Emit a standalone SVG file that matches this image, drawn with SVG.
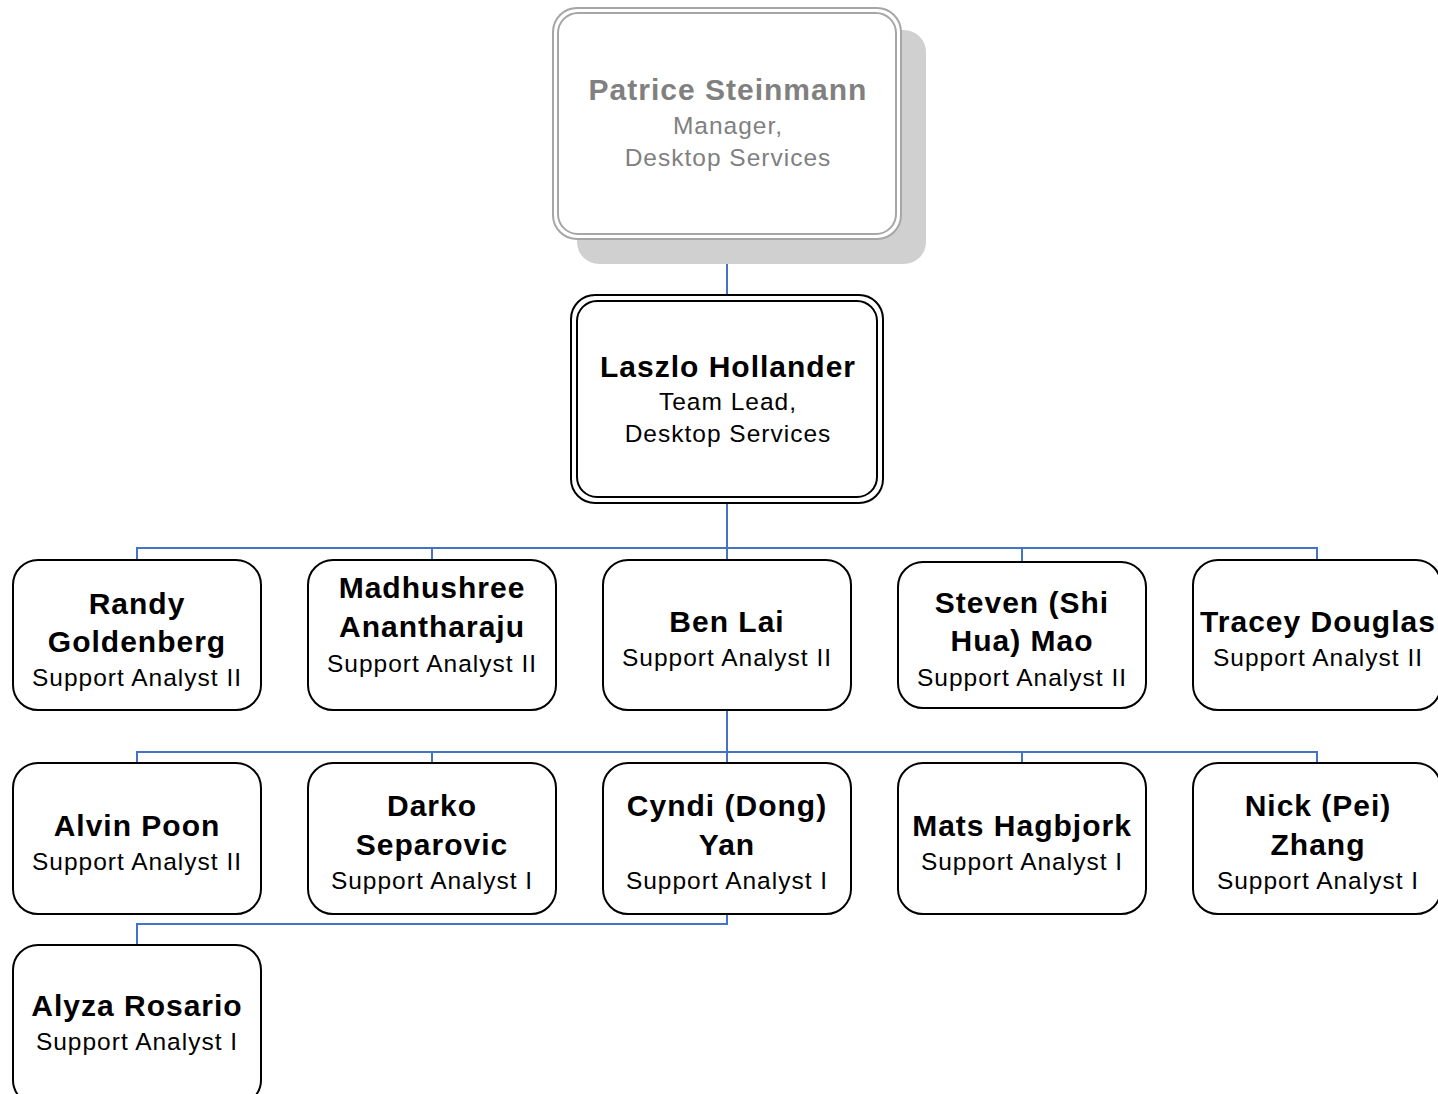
<svg xmlns="http://www.w3.org/2000/svg" width="1438" height="1094" viewBox="0 0 1438 1094">
<style>
.box{fill:#fff;stroke:#000;stroke-width:2}
.gbox{fill:#fff;stroke:#a6a6a6;stroke-width:2}
.n{font-family:"Liberation Sans",Arial,sans-serif;font-weight:bold;font-size:30px;letter-spacing:1px;text-anchor:middle;fill:#000}
.t{font-family:"Liberation Sans",Arial,sans-serif;font-size:24.5px;letter-spacing:1px;text-anchor:middle;fill:#000}
.g{fill:#808080}
.c{fill:none;stroke:#4472c4;stroke-width:2}
</style>
<rect width="1438" height="1094" fill="#fff"/>
<g id="connectors">
<path class="c" d="M727 239V296"/>
<path class="c" d="M727 503V560M137 560V548H1317V560M432 548V560M1022 548V562"/>
<path class="c" d="M727 711V763M137 763V752H1317V763M432 752V763M1022 752V763"/>
<path class="c" d="M727 914V924H137V945"/>
</g>
<g id="patrice">
<rect x="577" y="30" width="349" height="234" rx="22" fill="#d0d0d0"/>
<rect class="gbox" x="553" y="8" width="348" height="231" rx="24"/>
<rect class="gbox" x="558" y="13" width="338" height="221" rx="20"/>
<text class="n g" x="728" y="100">Patrice Steinmann</text>
<text class="t g" x="728" y="134">Manager,</text>
<text class="t g" x="728" y="166">Desktop Services</text>
</g>
<g id="laszlo">
<rect class="box" x="571" y="295" width="312" height="208" rx="24"/>
<rect class="box" x="577" y="301" width="300" height="196" rx="20"/>
<text class="n" x="728" y="377">Laszlo Hollander</text>
<text class="t" x="728" y="410">Team Lead,</text>
<text class="t" x="728" y="442">Desktop Services</text>
</g>
<g id="randy">
<rect class="box" x="13" y="560" width="248" height="150" rx="25"/>
<text class="n" x="137" y="614">Randy</text>
<text class="n" x="137" y="652">Goldenberg</text>
<text class="t" x="137" y="686">Support Analyst II</text>
</g>
<g id="madhushree">
<rect class="box" x="308" y="560" width="248" height="150" rx="25"/>
<text class="n" x="432" y="598">Madhushree</text>
<text class="n" x="432" y="637">Anantharaju</text>
<text class="t" x="432" y="672">Support Analyst II</text>
</g>
<g id="ben">
<rect class="box" x="603" y="560" width="248" height="150" rx="25"/>
<text class="n" x="727" y="632">Ben Lai</text>
<text class="t" x="727" y="666">Support Analyst II</text>
</g>
<g id="steven">
<rect class="box" x="898" y="562" width="248" height="146" rx="25"/>
<text class="n" x="1022" y="613">Steven (Shi</text>
<text class="n" x="1022" y="651">Hua) Mao</text>
<text class="t" x="1022" y="686">Support Analyst II</text>
</g>
<g id="tracey">
<rect class="box" x="1193" y="560" width="248" height="150" rx="25"/>
<text class="n" x="1318" y="632">Tracey Douglas</text>
<text class="t" x="1318" y="666">Support Analyst II</text>
</g>
<g id="alvin">
<rect class="box" x="13" y="763" width="248" height="151" rx="25"/>
<text class="n" x="137" y="836">Alvin Poon</text>
<text class="t" x="137" y="870">Support Analyst II</text>
</g>
<g id="darko">
<rect class="box" x="308" y="763" width="248" height="151" rx="25"/>
<text class="n" x="432" y="816">Darko</text>
<text class="n" x="432" y="855">Separovic</text>
<text class="t" x="432" y="889">Support Analyst I</text>
</g>
<g id="cyndi">
<rect class="box" x="603" y="763" width="248" height="151" rx="25"/>
<text class="n" x="727" y="816">Cyndi (Dong)</text>
<text class="n" x="727" y="855">Yan</text>
<text class="t" x="727" y="889">Support Analyst I</text>
</g>
<g id="mats">
<rect class="box" x="898" y="763" width="248" height="151" rx="25"/>
<text class="n" x="1022" y="836">Mats Hagbjork</text>
<text class="t" x="1022" y="870">Support Analyst I</text>
</g>
<g id="nick">
<rect class="box" x="1193" y="763" width="248" height="151" rx="25"/>
<text class="n" x="1318" y="816">Nick (Pei)</text>
<text class="n" x="1318" y="855">Zhang</text>
<text class="t" x="1318" y="889">Support Analyst I</text>
</g>
<g id="alyza">
<rect class="box" x="13" y="945" width="248" height="160" rx="25"/>
<text class="n" x="137" y="1016">Alyza Rosario</text>
<text class="t" x="137" y="1050">Support Analyst I</text>
</g>
</svg>
